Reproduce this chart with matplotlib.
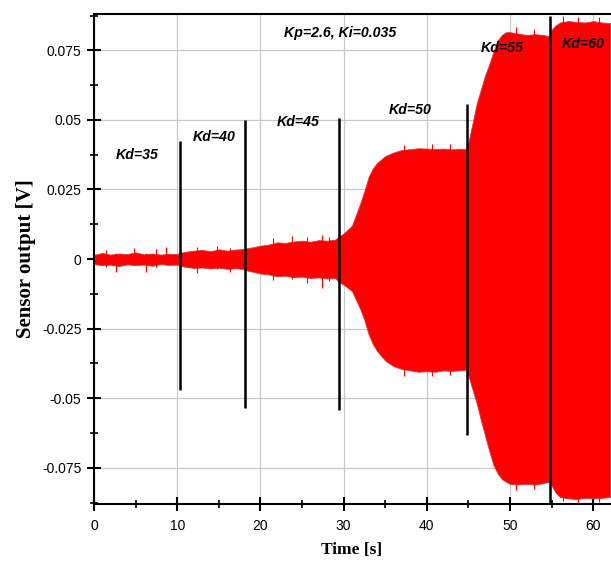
import numpy as np
import matplotlib
matplotlib.use("Agg")
import matplotlib.pyplot as plt
from matplotlib.ticker import MultipleLocator
from matplotlib import font_manager

# --- envelope of the sensor signal ---
t_env = [0, 1, 2, 3, 4, 5, 6, 7, 8, 9, 10, 10.3, 11, 12, 13, 14, 15, 16, 17, 18,
         18.2, 19, 20, 21, 22, 23, 24, 25, 26, 27, 28, 29, 29.3, 30, 31, 32, 32.5,
         33, 33.5, 34, 35, 36, 37, 38, 39, 40, 41, 42, 43, 44, 44.7, 45, 45.5, 46,
         46.5, 47, 47.5, 48, 48.5, 49, 49.5, 50, 51, 52, 53, 54, 54.7, 55, 55.5,
         56, 57, 58, 59, 60, 61, 62]
upper = [0.0015, 0.0022, 0.0016, 0.0020, 0.0018, 0.0024, 0.0017, 0.0020, 0.0016, 0.0019,
         0.0018, 0.0022, 0.0026, 0.0030, 0.0033, 0.0028, 0.0035, 0.0030, 0.0034, 0.0036,
         0.0038, 0.0042, 0.0048, 0.0052, 0.0060, 0.0058, 0.0063, 0.0066, 0.0062, 0.0068,
         0.0066, 0.0070, 0.0078, 0.0092, 0.0120, 0.0200, 0.0245, 0.0295, 0.0325, 0.0345,
         0.0370, 0.0383, 0.0392, 0.0395, 0.0398, 0.0397, 0.0395, 0.0397, 0.0394, 0.0396,
         0.0395, 0.0420, 0.0490, 0.0560, 0.0610, 0.0660, 0.0700, 0.0745, 0.0785, 0.0805,
         0.0815, 0.0815, 0.0810, 0.0805, 0.0808, 0.0805, 0.0800, 0.0825, 0.0840, 0.0850,
         0.0855, 0.0852, 0.0850, 0.0855, 0.0850, 0.0848]
lower = [-0.0018, -0.0022, -0.0020, -0.0025, -0.0019, -0.0022, -0.0020, -0.0024, -0.0018, -0.0021,
         -0.0020, -0.0024, -0.0028, -0.0032, -0.0030, -0.0034, -0.0031, -0.0035, -0.0033, -0.0036,
         -0.0040, -0.0045, -0.0052, -0.0055, -0.0062, -0.0060, -0.0065, -0.0063, -0.0068, -0.0066,
         -0.0070, -0.0068, -0.0080, -0.0092, -0.0115, -0.0180, -0.0220, -0.0270, -0.0305, -0.0330,
         -0.0365, -0.0385, -0.0395, -0.0400, -0.0405, -0.0403, -0.0405, -0.0400, -0.0402, -0.0400,
         -0.0398, -0.0420, -0.0470, -0.0520, -0.0580, -0.0635, -0.0690, -0.0740, -0.0770, -0.0790,
         -0.0800, -0.0808, -0.0810, -0.0808, -0.0810, -0.0805, -0.0800, -0.0815, -0.0840, -0.0855,
         -0.0860, -0.0862, -0.0858, -0.0860, -0.0858, -0.0855]

# a few noise spikes sticking out of the envelope
spike_t = [1.4, 2.6, 4.8, 6.3, 7.5, 8.7, 12.4, 14.8, 16.3, 21.5, 23.8, 25.6, 27.4, 28.3,
           37.2, 40.6, 42.8, 50.7, 52.9, 56.4, 58.1, 60.7]
spike_lo = [-0.0030, -0.0045, -0.0020, -0.0048, -0.0028, -0.0022, -0.0050, -0.0036, -0.0046,
            -0.0075, -0.0070, -0.0085, -0.0104, -0.0078, -0.0420, -0.0420, -0.0415, -0.0830,
            -0.0825, -0.0870, -0.0875, -0.0872]
spike_hi = [0.0032, 0.0020, 0.0038, 0.0020, 0.0036, 0.0042, 0.0045, 0.0048, 0.0040, 0.0075,
            0.0082, 0.0078, 0.0085, 0.0080, 0.0410, 0.0415, 0.0412, 0.0835, 0.0825, 0.0875,
            0.0870, 0.0868]

# --- gain change markers ---
kd_x = [10.3, 18.2, 29.4, 44.8, 54.8]
kd_lo = [-0.047, -0.0535, -0.0543, -0.0633, -0.0875]
kd_hi = [0.0425, 0.0500, 0.0507, 0.0558, 0.0875]

kd_labels = ["Kd=35", "Kd=40", "Kd=45", "Kd=50", "Kd=55", "Kd=60"]
kd_lab_x = [5.2, 14.4, 24.5, 38.0, 49.0, 58.8]
kd_lab_y = [0.0374, 0.0439, 0.0493, 0.0536, 0.0760, 0.0773]

# narrow face if it is there, the reference text looks tall and condensed
names = {f.name for f in font_manager.fontManager.ttflist}
SANS = "Liberation Sans Narrow" if "Liberation Sans Narrow" in names else "Liberation Sans"
scale = 1.2 if SANS.endswith("Narrow") else 1.0

fig = plt.figure(figsize=(6.11, 5.65), dpi=100)
ax = fig.add_axes([0.1538, 0.108, 0.8445, 0.867])

ax.set_xlim(0, 62)
ax.set_ylim(-0.088, 0.088)

ax.grid(True, which="major", color="#c8c8c8", lw=0.9)
ax.set_axisbelow(True)

ax.fill_between(t_env, lower, upper, color="#ff0000", edgecolor="#d83a3a", lw=0.6, zorder=2)
ax.vlines(spike_t, spike_lo, spike_hi, color="#ff0000", lw=0.8, zorder=2)

ax.vlines(kd_x, kd_lo, kd_hi, color="black", lw=1.8, zorder=3)

for lab, x, y in zip(kd_labels, kd_lab_x, kd_lab_y):
    ax.text(x, y, lab, ha="center", va="center", fontsize=10.2 * scale, fontweight="bold",
            fontstyle="italic", family=SANS, zorder=4)
ax.text(29.6, 0.0813, "Kp=2.6, Ki=0.035", ha="center", va="center", fontsize=10.2 * scale,
        fontweight="bold", fontstyle="italic", family=SANS, zorder=4)

# ticks
ax.xaxis.set_major_locator(MultipleLocator(10))
ax.xaxis.set_minor_locator(MultipleLocator(5))
ax.yaxis.set_minor_locator(MultipleLocator(0.0125))
ax.set_yticks([-0.075, -0.05, -0.025, 0, 0.025, 0.05, 0.075])
ax.set_yticklabels(["-0.075", "-0.05", "-0.025", "0", "0.025", "0.05", "0.075"])
ax.tick_params(which="major", direction="inout", length=10, width=1.5,
               labelsize=10 * scale)
ax.tick_params(axis="x", which="major", pad=6)
ax.tick_params(axis="y", which="major", pad=4)
ax.tick_params(which="minor", direction="inout", length=6, width=1.2)
for lbl in ax.get_xticklabels() + ax.get_yticklabels():
    lbl.set_family(SANS)

for side in ["left", "bottom", "top"]:
    ax.spines[side].set_linewidth(1.5)
ax.spines["right"].set_visible(False)

ax.set_xlabel("Time [s]", family="Liberation Serif", fontweight="bold", fontsize=12.5, labelpad=6)
ax.set_ylabel("Sensor output [V]", family="Liberation Serif", fontweight="bold", fontsize=15,
              labelpad=4)

fig.savefig("out.png", dpi=100)
